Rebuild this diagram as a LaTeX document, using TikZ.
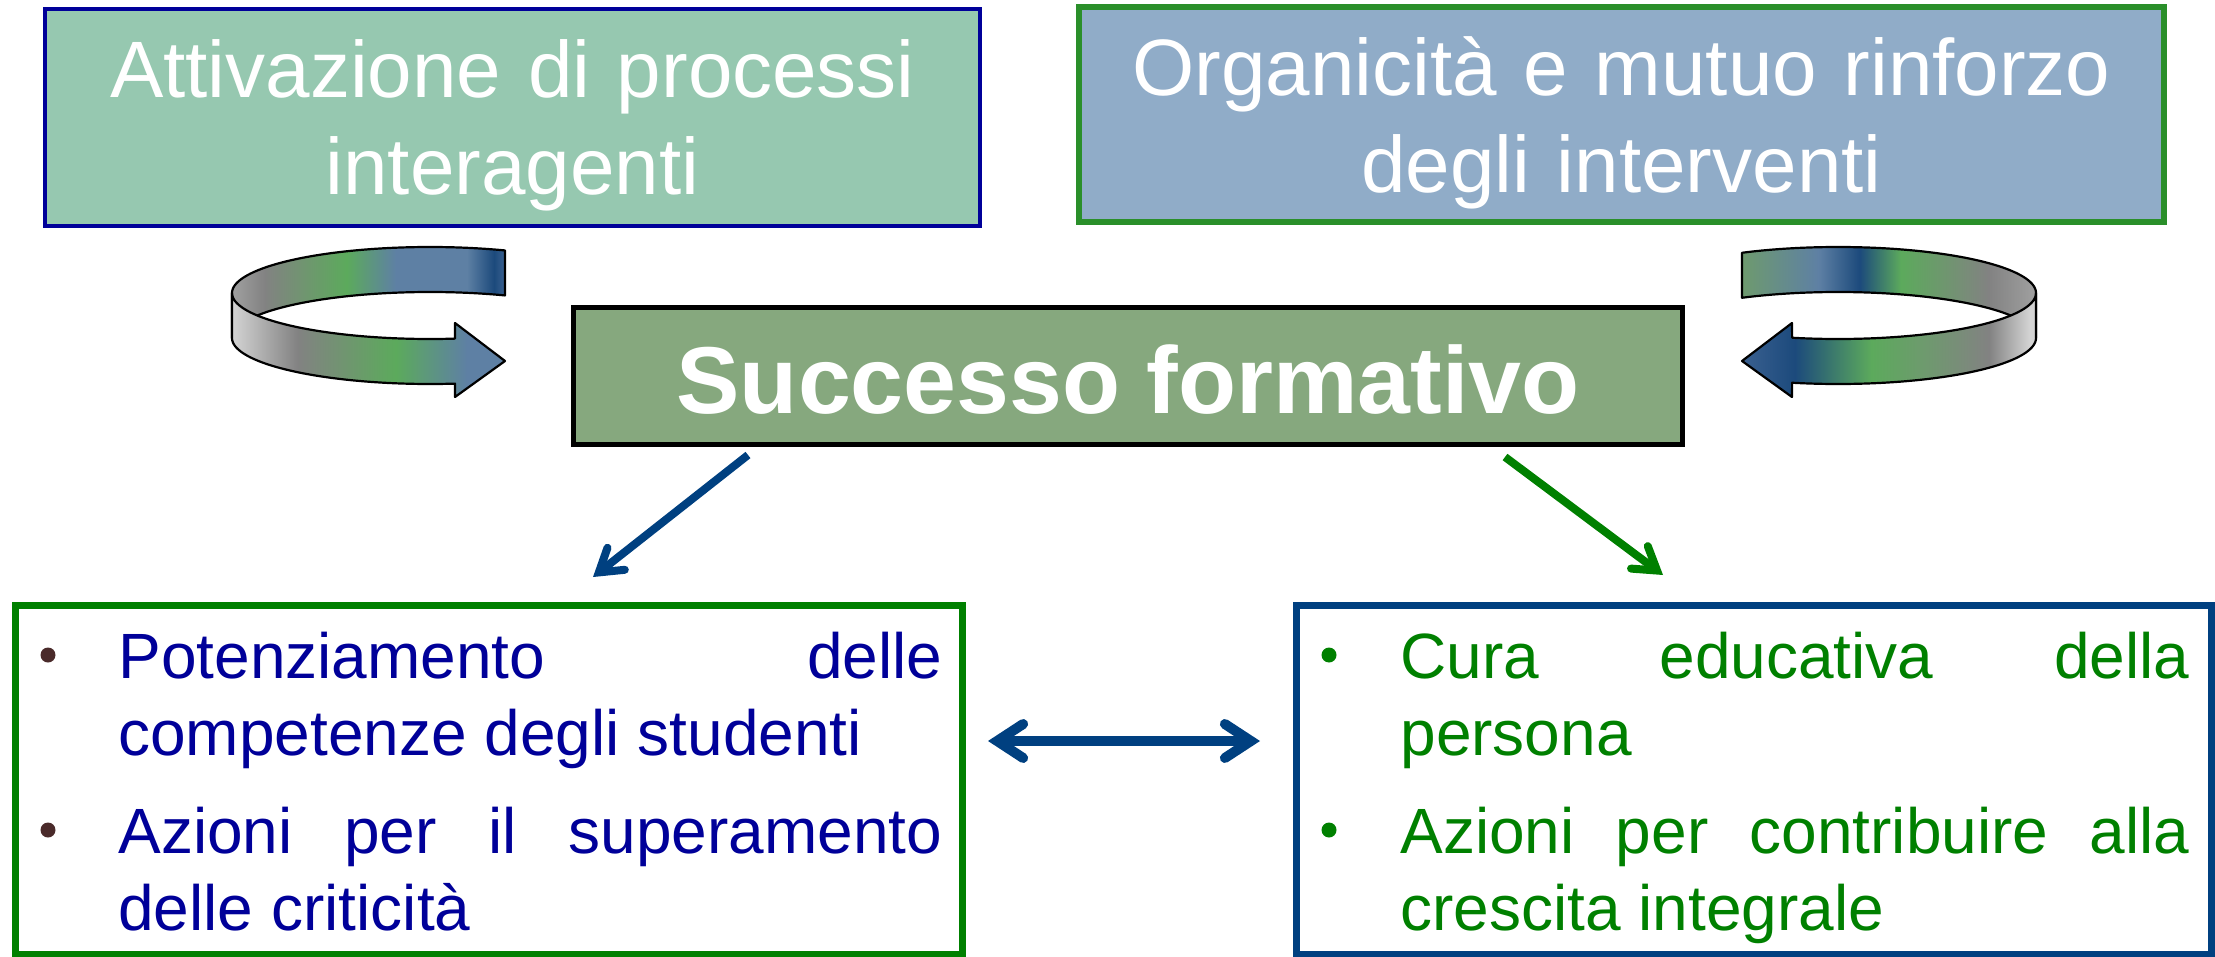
\documentclass[tikz,border=0pt]{standalone}
\usepackage{fontspec}
\setmainfont{Liberation Sans}
\usetikzlibrary{arrows.meta}
\hyphenpenalty=10000
\exhyphenpenalty=10000
\definecolor{navyT}{HTML}{000099}
\definecolor{boxA}{HTML}{96C8B0}
\definecolor{boxB}{HTML}{90ACC8}
\definecolor{boxC}{HTML}{86A87E}
\definecolor{grnB}{HTML}{2A8F2A}
\definecolor{grnL}{HTML}{008000}
\definecolor{bluL}{HTML}{004080}
\definecolor{bulL}{HTML}{4A2A2A}
\definecolor{sLight}{HTML}{D4D4D4}
\definecolor{sA}{HTML}{A0A0A0}
\definecolor{sGray}{HTML}{828282}
\definecolor{sGreen}{HTML}{5CAA5C}
\definecolor{sBlueG}{HTML}{5E80A4}
\definecolor{sNavy}{HTML}{1C4A7C}
\definecolor{sNavyB}{HTML}{3A6090}
\definecolor{sGG}{HTML}{6E9A6E}
\pgfdeclarehorizontalshading{lback}{100bp}{color(0bp)=(sA); color(25bp)=(sA); color(31bp)=(sGray); color(46bp)=(sGreen); color(55bp)=(sBlueG); color(68bp)=(sBlueG); color(73bp)=(sNavy); color(75bp)=(sNavyB); color(100bp)=(sNavyB)}
\pgfdeclarehorizontalshading{lfront}{100bp}{color(0bp)=(sLight); color(25bp)=(sLight); color(37bp)=(sGray); color(55bp)=(sGreen); color(68bp)=(sBlueG); color(100bp)=(sBlueG)}
\pgfdeclarehorizontalshading{rback}{100bp}{color(0bp)=(sGG); color(25bp)=(sGG); color(38bp)=(sBlueG); color(45bp)=(sNavy); color(52bp)=(sGreen); color(67bp)=(sGray); color(75bp)=(sA); color(100bp)=(sA)}
\pgfdeclarehorizontalshading{rfront}{100bp}{color(0bp)=(sNavyB); color(25bp)=(sNavyB); color(34bp)=(sNavy); color(47bp)=(sGreen); color(56bp)=(sGG); color(67bp)=(sGray); color(74bp)=(sLight); color(100bp)=(sLight)}
\begin{document}
\begin{tikzpicture}[x=0.5pt,y=-0.5pt,
  boxnode/.style={rectangle, inner sep=0pt},
  toptext/.style={anchor=base, inner sep=0pt, text=white, align=center, font=\fontsize{40}{48.5}\selectfont},
  para/.style={anchor=base west, inner sep=0pt, align=justify, font=\fontsize{32}{38.5}\selectfont},
  curv/.style={draw=black, line width=1.1pt, line join=round},
  bararrow/.style={line width=4pt, arrows={-Straight Barb[length=11pt,width=14pt,line cap=round,line join=miter]}},
  dblarrow/.style={line width=5pt, draw=bluL, arrows={Straight Barb[length=13pt,width=17pt,line cap=round,line join=miter]-Straight Barb[length=13pt,width=17pt,line cap=round,line join=miter]}}
]
\useasboundingbox (0,0) rectangle (2215,957);

% top boxes
\node[boxnode, draw=navyT, fill=boxA, line width=2pt, minimum width=467.5pt, minimum height=108.5pt] (att) at (512.5,117.5) {};
\node[toptext, text width=467pt] (attT) at (512.5,98) {Attivazione di processi\\interagenti};
\node[boxnode, draw=grnB, fill=boxB, line width=3pt, minimum width=542.5pt, minimum height=107.5pt] (org) at (1621.5,114.5) {};
\node[toptext, text width=540pt] (orgT) at (1621.5,96) {Organicità e mutuo rinforzo\\degli interventi};

% center box
\node[boxnode, draw=black, fill=boxC, line width=2.5pt, minimum width=554.5pt, minimum height=68.5pt] (succ) at (1128,376) {};
\node[anchor=base, inner sep=0pt, text=white, font=\bfseries\fontsize{47.5}{57}\selectfont] (succT) at (1128,413) {Successo formativo};

% curved arrows (left)
\shadedraw[shading=lback, curv] plot[domain=-67.74:-180,samples=60] ({430+198*cos(\x)},{293+46*sin(\x)}) -- plot[domain=-180:-67.74,samples=60] ({430+198*cos(\x)},{338+46*sin(\x)}) -- cycle;
\shadedraw[shading=lfront, curv] plot[domain=180:82.75,samples=60] ({430+198*cos(\x)},{293+46*sin(\x)}) -- (455,323) -- (505,361) -- (455,397) -- plot[domain=82.75:180,samples=60] ({430+198*cos(\x)},{338+46*sin(\x)}) -- cycle;
% curved arrows (right)
\shadedraw[shading=rback, curv] plot[domain=-119:0,samples=60] ({1838+198*cos(\x)},{293+46*sin(\x)}) -- plot[domain=0:-119,samples=60] ({1838+198*cos(\x)},{338+46*sin(\x)}) -- cycle;
\shadedraw[shading=rfront, curv] plot[domain=0:103.4,samples=60] ({1838+198*cos(\x)},{293+46*sin(\x)}) -- (1792,323) -- (1742,361) -- (1792,397) -- plot[domain=103.4:0,samples=60] ({1838+198*cos(\x)},{338+46*sin(\x)}) -- cycle;

% bottom boxes
\node[boxnode, draw=grnL, line width=3.5pt, minimum width=473.5pt, minimum height=174.5pt] (bl) at (489,780) {};
\node[boxnode, draw=bluL, line width=3.5pt, minimum width=457.5pt, minimum height=174.5pt] (br) at (1754,780) {};

\fill[bulL] (48,655) circle (3.75pt);
\fill[bulL] (48,830) circle (3.75pt);
\node[para, text=navyT, text width=412pt] (p1) at (118,678) {Potenziamento delle\linebreak competenze degli studenti};
\node[para, text=navyT, text width=412pt] (p2) at (118,853) {Azioni per il superamento\linebreak delle criticità};

\fill[grnL] (1329,655) circle (3.75pt);
\fill[grnL] (1329,830) circle (3.75pt);
\node[para, text=grnL, text width=394.5pt] (p3) at (1400,678) {Cura educativa della\linebreak persona};
\node[para, text=grnL, text width=394.5pt] (p4) at (1400,853) {Azioni per contribuire alla\linebreak crescita integrale};

% connectors
\coordinate (da) at (0,741);
\draw[dblarrow, shorten <=11pt, shorten >=16.5pt] (bl.east |- da) -- (br.west |- da);
\draw[bararrow, draw=bluL] ([xshift=88.5pt,yshift=-4pt]succ.south west) -- ([xshift=52pt,yshift=12.5pt]bl.north);
\draw[bararrow, draw=grnL] ([xshift=-90pt,yshift=-5pt]succ.south east) -- ([xshift=-45.5pt,yshift=13.5pt]br.north);
\end{tikzpicture}
\end{document}
